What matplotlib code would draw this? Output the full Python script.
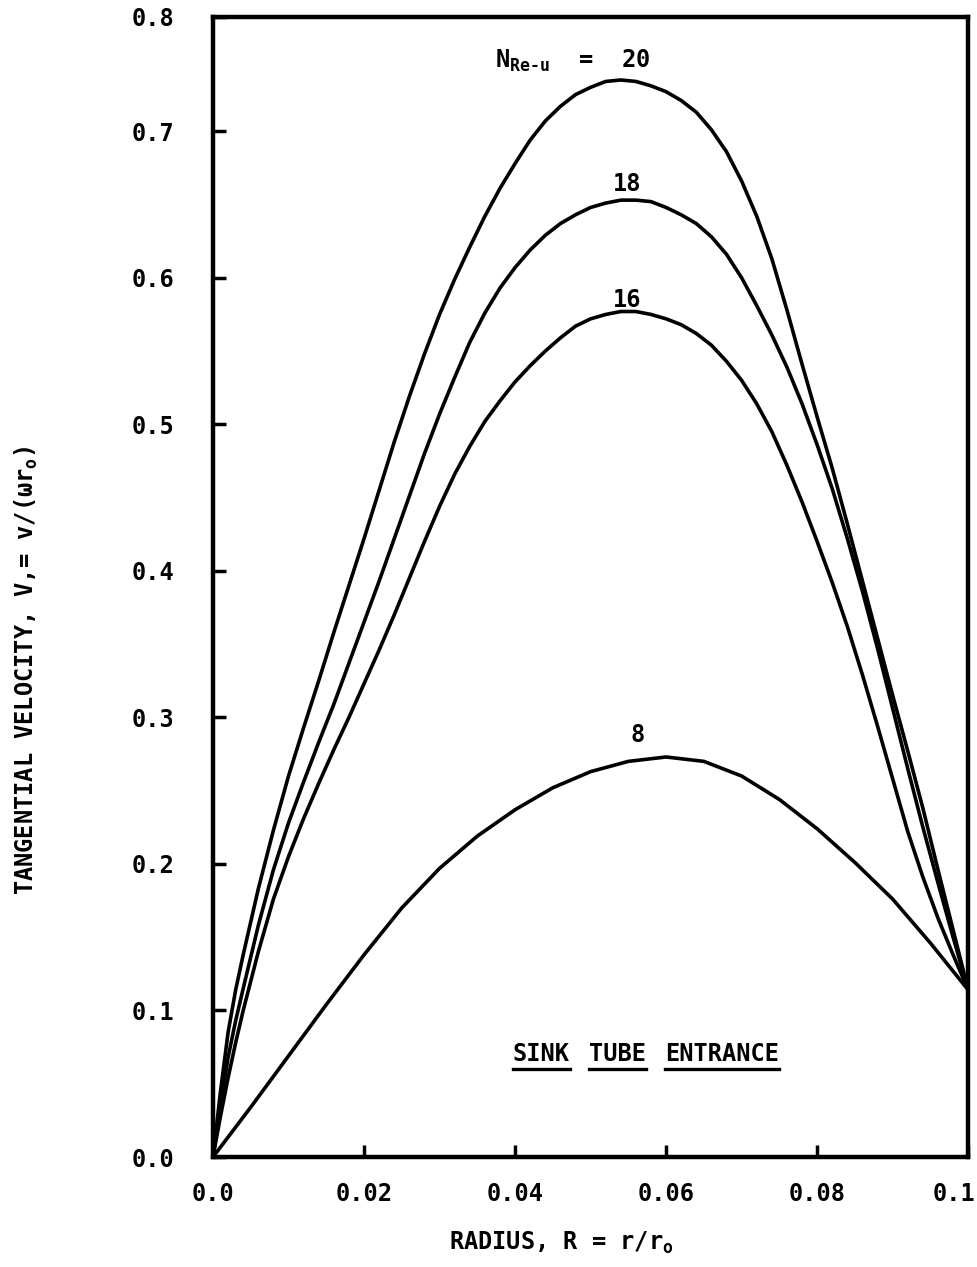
import matplotlib
matplotlib.use("Agg")
import matplotlib.pyplot as plt
import matplotlib.transforms as mtransforms
from matplotlib.lines import Line2D

# ── dati ───────────────────────────────────────────────────────────
R20 = [0, 0.001, 0.002, 0.003, 0.004, 0.006, 0.008, 0.010, 0.012, 0.014,
       0.016, 0.018, 0.020, 0.022, 0.024, 0.026, 0.028, 0.030, 0.032, 0.034,
       0.036, 0.038, 0.040, 0.042, 0.044, 0.046, 0.048, 0.050, 0.052, 0.054,
       0.056, 0.058, 0.060, 0.062, 0.064, 0.066, 0.068, 0.070, 0.072, 0.074,
       0.076, 0.078, 0.080, 0.082, 0.084, 0.086, 0.088, 0.090, 0.092, 0.094,
       0.096, 0.098, 0.100]
V20 = [0, 0.045, 0.085, 0.114, 0.138, 0.183, 0.223, 0.260, 0.293, 0.325,
       0.358, 0.390, 0.422, 0.455, 0.488, 0.519, 0.548, 0.575, 0.599, 0.621,
       0.642, 0.661, 0.678, 0.694, 0.707, 0.717, 0.725, 0.730, 0.734, 0.735,
       0.734, 0.731, 0.727, 0.721, 0.713, 0.701, 0.686, 0.666, 0.642, 0.613,
       0.578, 0.541, 0.505, 0.470, 0.432, 0.393, 0.354, 0.315, 0.277, 0.238,
       0.196, 0.155, 0.114]

R18 = [0, 0.001, 0.002, 0.003, 0.004, 0.006, 0.008, 0.010, 0.012, 0.014,
       0.016, 0.018, 0.020, 0.022, 0.024, 0.026, 0.028, 0.030, 0.032, 0.034,
       0.036, 0.038, 0.040, 0.042, 0.044, 0.046, 0.048, 0.050, 0.052, 0.054,
       0.056, 0.058, 0.060, 0.062, 0.064, 0.066, 0.068, 0.070, 0.072, 0.074,
       0.076, 0.078, 0.080, 0.082, 0.084, 0.086, 0.088, 0.090, 0.092, 0.094,
       0.096, 0.098, 0.100]
V18 = [0, 0.035, 0.068, 0.093, 0.115, 0.158, 0.196, 0.228, 0.256, 0.283,
       0.309, 0.337, 0.365, 0.393, 0.422, 0.451, 0.480, 0.507, 0.532, 0.556,
       0.576, 0.593, 0.607, 0.619, 0.629, 0.637, 0.643, 0.648, 0.651, 0.653,
       0.653, 0.652, 0.648, 0.643, 0.637, 0.628, 0.616, 0.600, 0.581, 0.561,
       0.539, 0.514, 0.486, 0.456, 0.422, 0.386, 0.347, 0.306, 0.265, 0.225,
       0.187, 0.150, 0.114]

R16 = [0, 0.001, 0.002, 0.003, 0.004, 0.006, 0.008, 0.010, 0.012, 0.014,
       0.016, 0.018, 0.020, 0.022, 0.024, 0.026, 0.028, 0.030, 0.032, 0.034,
       0.036, 0.038, 0.040, 0.042, 0.044, 0.046, 0.048, 0.050, 0.052, 0.054,
       0.056, 0.058, 0.060, 0.062, 0.064, 0.066, 0.068, 0.070, 0.072, 0.074,
       0.076, 0.078, 0.080, 0.082, 0.084, 0.086, 0.088, 0.090, 0.092, 0.094,
       0.096, 0.098, 0.100]
V16 = [0, 0.028, 0.054, 0.078, 0.100, 0.140, 0.176, 0.205, 0.231, 0.255,
       0.278, 0.300, 0.323, 0.346, 0.370, 0.395, 0.420, 0.444, 0.466, 0.485,
       0.502, 0.516, 0.529, 0.540, 0.550, 0.559, 0.567, 0.572, 0.575, 0.577,
       0.577, 0.575, 0.572, 0.568, 0.562, 0.554, 0.543, 0.530, 0.514, 0.495,
       0.472, 0.447, 0.420, 0.392, 0.362, 0.329, 0.294, 0.258, 0.222, 0.191,
       0.163, 0.138, 0.114]

R8 = [0, 0.005, 0.010, 0.015, 0.020, 0.025, 0.030, 0.035, 0.040, 0.045,
      0.050, 0.055, 0.060, 0.065, 0.070, 0.075, 0.080, 0.085, 0.090, 0.095, 0.100]
V8 = [0, 0.034, 0.069, 0.104, 0.138, 0.170, 0.197, 0.219, 0.237, 0.252,
      0.263, 0.270, 0.273, 0.270, 0.260, 0.244, 0.224, 0.201, 0.176, 0.146, 0.114]

curve_labels = ["20", "18", "16", "8"]
note_words = ["SINK", "TUBE", "ENTRANCE"]

x_ticks = [0.0, 0.02, 0.04, 0.06, 0.08, 0.1]
x_ticklabels = ["0.0", "0.02", "0.04", "0.06", "0.08", "0.1"]
Y_TOP = 0.778   # il riquadro originale si ferma poco sotto 0.8
y_ticks = [0.0, 0.1, 0.2, 0.3, 0.4, 0.5, 0.6, 0.7, Y_TOP]
y_ticklabels = ["0.0", "0.1", "0.2", "0.3", "0.4", "0.5", "0.6", "0.7", "0.8"]

# ── stile ─────────────────────────────────────────────────────────
FONT = "DejaVu Sans Mono"
plt.rcParams["font.family"] = [FONT]
plt.rcParams["font.weight"] = "bold"
plt.rcParams["axes.labelweight"] = "bold"
plt.rcParams["mathtext.fontset"] = "custom"
plt.rcParams["mathtext.rm"] = FONT + ":bold"
plt.rcParams["mathtext.it"] = FONT + ":bold"
plt.rcParams["mathtext.bf"] = FONT + ":bold"

fig = plt.figure(figsize=(9.77, 12.67), dpi=100, facecolor="white")
ax = fig.add_axes([0.218, 0.0868, 0.773, 0.8998])

for R, V in [(R20, V20), (R18, V18), (R16, V16), (R8, V8)]:
    ax.plot(R, V, color="black", linewidth=2.6, solid_joinstyle="round",
            solid_capstyle="round")

ax.set_xlim(0, 0.1)
ax.set_ylim(0, Y_TOP)

ax.set_xticks(x_ticks)
ax.set_xticklabels(x_ticklabels)
ax.set_yticks(y_ticks)
ax.set_yticklabels(y_ticklabels)
ax.tick_params(axis="both", direction="in", length=9, width=2.5, labelsize=17)
ax.tick_params(axis="x", pad=18)
ax.tick_params(axis="y", pad=28)

# "0.1" un po' a sinistra, come nell'originale
last = ax.get_xticklabels()[-1]
last.set_transform(last.get_transform() +
                   mtransforms.ScaledTranslation(-14 / 100, 0, fig.dpi_scale_trans))

for s in ax.spines.values():
    s.set_linewidth(3.2)

# etichette delle curve
ax.text(0.0579, 0.743, r"N$_\mathregular{Re\text{-}u}$  =  " + curve_labels[0],
        ha="right", va="baseline", fontsize=17)
ax.text(0.0548, 0.659, curve_labels[1], ha="center", va="baseline", fontsize=17)
ax.text(0.0548, 0.580, curve_labels[2], ha="center", va="baseline", fontsize=17)
ax.text(0.0562, 0.283, curve_labels[3], ha="center", va="baseline", fontsize=17)

ax.set_xlabel(r"RADIUS, R = r/r$_\mathregular{o}$", fontsize=17)
ax.xaxis.set_label_coords(0.461, -0.064)
ax.set_ylabel(r"TANGENTIAL VELOCITY, V,= v/(ωr$_\mathregular{o}$)", fontsize=17)
ax.yaxis.set_label_coords(-0.229, 0.427)

# scritta sottolineata, parola per parola
fig.canvas.draw()
renderer = fig.canvas.get_renderer()
x0_px, y0_px = ax.transData.transform((0.0397, 0.070))
gap = 19
for w in note_words:
    t = ax.text(x0_px, y0_px, w, transform=None, ha="left", va="center", fontsize=17)
    bb = t.get_window_extent(renderer)
    fig.add_artist(Line2D([bb.x0 / fig.bbox.width, bb.x1 / fig.bbox.width],
                          [(bb.y0 - 3) / fig.bbox.height] * 2,
                          color="black", linewidth=2.4))
    x0_px = bb.x1 + gap

fig.savefig("out.png", dpi=100, facecolor="white")
